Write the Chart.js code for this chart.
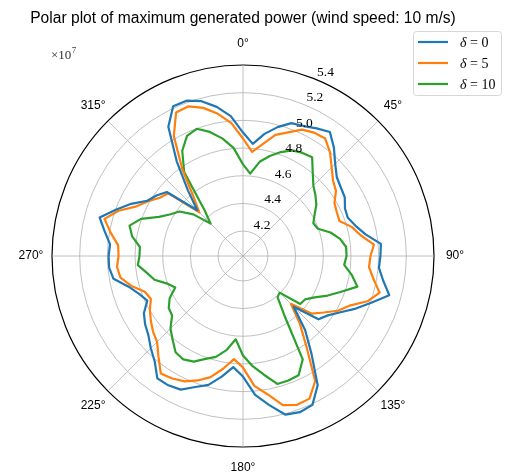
<!DOCTYPE html>
<html>
<head>
<meta charset="utf-8">
<title>Polar plot of maximum generated power</title>
<script src="https://cdn.jsdelivr.net/npm/chart.js@4.4.1/dist/chart.umd.min.js"></script>
<style>
  html, body { margin: 0; padding: 0; background: #fff; }
</style>
</head>
<body>
<canvas id="polarChart" width="505" height="474"></canvas>
<script>
/* globals Chart:false */

(() => {
  "use strict";

  // wind direction (degrees, clockwise from north)
  const angles = [
    0, 5, 10, 15, 20, 25, 30, 35, 40, 45, 50, 55,
    60, 65, 70, 75, 80, 85, 90, 95, 100, 105, 110, 115,
    120, 125, 130, 135, 140, 145, 150, 155, 160, 165, 170, 175,
    180, 185, 190, 195, 200, 205, 210, 215, 220, 225, 230, 235,
    240, 245, 250, 255, 260, 265, 270, 275, 280, 285, 290, 295,
    300, 305, 310, 315, 320, 325, 330, 335, 340, 345, 350, 355,
  ];

  // maximum generated power, x 1e7
  const power0 = [
    4.912, 4.833, 4.916, 4.984, 5.042, 5.056, 5.085, 5.114, 5.042, 4.962, 4.905, 4.883,
    4.869, 4.833, 4.826, 4.862, 4.919, 5.020, 5.013, 5.006, 5.049, 5.114, 5.006, 4.919,
    4.833, 4.768, 4.732, 4.538, 4.718, 4.883, 5.099, 5.207, 5.221, 5.207, 5.114, 5.027,
    4.891, 4.826, 4.905, 4.984, 5.027, 5.085, 5.099, 5.099, 5.013, 4.962, 4.912, 4.883,
    4.847, 4.783, 4.819, 4.876, 4.970, 4.991, 4.991, 4.984, 5.034, 5.092, 4.998, 4.912,
    4.819, 4.783, 4.739, 4.488, 4.639, 4.855, 5.099, 5.214, 5.214, 5.178, 5.114, 5.034,
  ];
  const power5 = [
    4.869, 4.775, 4.840, 4.926, 4.970, 5.027, 5.049, 5.056, 4.998, 4.926, 4.869, 4.840,
    4.783, 4.768, 4.761, 4.833, 4.883, 4.970, 4.941, 4.934, 4.977, 5.042, 4.977, 4.869,
    4.811, 4.732, 4.667, 4.509, 4.660, 4.819, 5.063, 5.157, 5.164, 5.135, 5.034, 4.962,
    4.826, 4.768, 4.847, 4.926, 4.977, 5.020, 5.042, 5.056, 4.970, 4.898, 4.869, 4.833,
    4.797, 4.754, 4.775, 4.855, 4.919, 4.934, 4.919, 4.926, 4.991, 5.056, 4.977, 4.869,
    4.811, 4.754, 4.725, 4.466, 4.574, 4.783, 5.020, 5.164, 5.171, 5.128, 5.063, 4.984,
  ];
  const power10 = [
    4.682, 4.617, 4.711, 4.768, 4.819, 4.862, 4.880, 4.891, 4.804, 4.739, 4.703, 4.667,
    4.617, 4.581, 4.596, 4.675, 4.732, 4.768, 4.768, 4.754, 4.819, 4.876, 4.775, 4.696,
    4.617, 4.567, 4.560, 4.394, 4.408, 4.538, 4.883, 4.970, 4.977, 4.977, 4.891, 4.819,
    4.739, 4.624, 4.711, 4.775, 4.811, 4.862, 4.883, 4.869, 4.811, 4.761, 4.689, 4.675,
    4.632, 4.560, 4.603, 4.682, 4.725, 4.783, 4.768, 4.768, 4.833, 4.869, 4.804, 4.689,
    4.624, 4.581, 4.488, 4.351, 4.452, 4.761, 4.898, 4.977, 4.998, 4.948, 4.883, 4.804,
  ];

  const seriesLabels = ["δ = 0", "δ = 5", "δ = 10"];
  const radialTicks = [4.2, 4.4, 4.6, 4.8, 5.0, 5.2, 5.4];
  const angleTicks = [0, 45, 90, 135, 180, 225, 270, 315];

  const rMin = 4.02;
  const rMax = 5.4;
  const colors = ["#1f77b4", "#ff7f0e", "#2ca02c"];
  const gridGray = "#b0b0b0";
  const sans = "'Liberation Sans', Arial, sans-serif";
  const serif = "'Liberation Serif', 'Times New Roman', serif";

  // tick labels, angle labels, offset text and legend, drawn on top
  const polarDecor = {
    id: "polarDecor",
    afterDatasetsDraw(chart) {
      const { ctx } = chart;
      const scale = chart.scales.r;
      const step = 360 / angles.length;

      ctx.save();
      ctx.fillStyle = "#000";

      // radial tick labels along 22.5 deg
      ctx.font = "13.5px " + serif;
      ctx.textAlign = "left";
      ctx.textBaseline = "alphabetic";
      radialTicks.forEach((v) => {
        const d = scale.getDistanceFromCenterForValue(v);
        const p = scale.getPointPosition(22.5 / step, d);
        ctx.fillText(v.toFixed(1), p.x + 1, p.y - 4);
      });

      // angle labels
      ctx.font = "12px " + sans;
      ctx.textAlign = "center";
      ctx.textBaseline = "middle";
      angleTicks.forEach((a) => {
        const p = scale.getPointPosition(a / step, scale.drawingArea + 21);
        ctx.fillText(a + "°", p.x, p.y);
      });

      // offset text
      ctx.fillStyle = "#333";
      ctx.textAlign = "left";
      ctx.textBaseline = "alphabetic";
      ctx.font = "13px " + serif;
      ctx.fillText("×10", 51, 58.5);
      const ow = ctx.measureText("×10").width;
      ctx.font = "9px " + serif;
      ctx.fillText("7", 51 + ow + 0.5, 52.5);

      // legend box
      const bx = 413, by = 31, bw = 88, bh = 64;
      ctx.beginPath();
      ctx.roundRect(bx + 0.5, by + 0.5, bw, bh, 3);
      ctx.fillStyle = "rgba(255,255,255,0.85)";
      ctx.fill();
      ctx.strokeStyle = "#d6d6d6";
      ctx.lineWidth = 1;
      ctx.stroke();

      chart.data.datasets.forEach((ds, i) => {
        const y = 42 + i * 21;
        ctx.beginPath();
        ctx.moveTo(418, y);
        ctx.lineTo(448, y);
        ctx.strokeStyle = ds.borderColor;
        ctx.lineWidth = 2.2;
        ctx.stroke();

        const parts = ds.label.split(" ");
        ctx.fillStyle = "#000";
        ctx.font = "italic 14px " + serif;
        ctx.fillText(parts[0], 460, y + 4.5);
        const w = ctx.measureText(parts[0]).width;
        ctx.font = "14px " + serif;
        ctx.fillText(" " + parts.slice(1).join(" "), 460 + w, y + 4.5);
      });

      ctx.restore();
    },
  };

  const chartEl = document.getElementById("polarChart");
  if (chartEl) {
    // eslint-disable-next-line no-unused-vars
    const polarChart = new Chart(chartEl, {
      type: "radar",
      data: {
        labels: angles,
        datasets: [power0, power5, power10].map((values, i) => ({
          label: seriesLabels[i],
          data: values,
          borderColor: colors[i],
          backgroundColor: "transparent",
          borderWidth: 2.2,
          fill: false,
          pointRadius: 0,
          pointHoverRadius: 0,
        })),
      },
      options: {
        responsive: false,
        animation: false,
        layout: {
          // chart area 0..486 wide keeps the circle centred at x = 243
          padding: { left: 0, right: 19, top: 8, bottom: 26 },
        },
        elements: {
          line: { tension: 0, borderJoinStyle: "round" },
        },
        plugins: {
          legend: { display: false },
          tooltip: { enabled: false },
          title: {
            display: true,
            text: "Polar plot of maximum generated power (wind speed: 10 m/s)",
            color: "#000",
            font: { family: sans, size: 15.6, weight: "normal", lineHeight: 1.2 },
            padding: { top: 1, bottom: 36.3 },
          },
        },
        scales: {
          r: {
            min: rMin,
            max: rMax,
            ticks: { display: false, stepSize: 0.2 },
            pointLabels: { display: false },
            grid: {
              circular: true,
              color: (c) => (c.tick && c.tick.value >= rMax - 1e-9 ? "#000" : gridGray),
              lineWidth: (c) => (c.tick && c.tick.value >= rMax - 1e-9 ? 1.2 : 0.8),
            },
            angleLines: {
              color: gridGray,
              lineWidth: (c) => (c.index % 9 === 0 ? 0.8 : 0),
            },
          },
        },
      },
      plugins: [polarDecor],
    });
  }
})();
</script>
</body>
</html>
